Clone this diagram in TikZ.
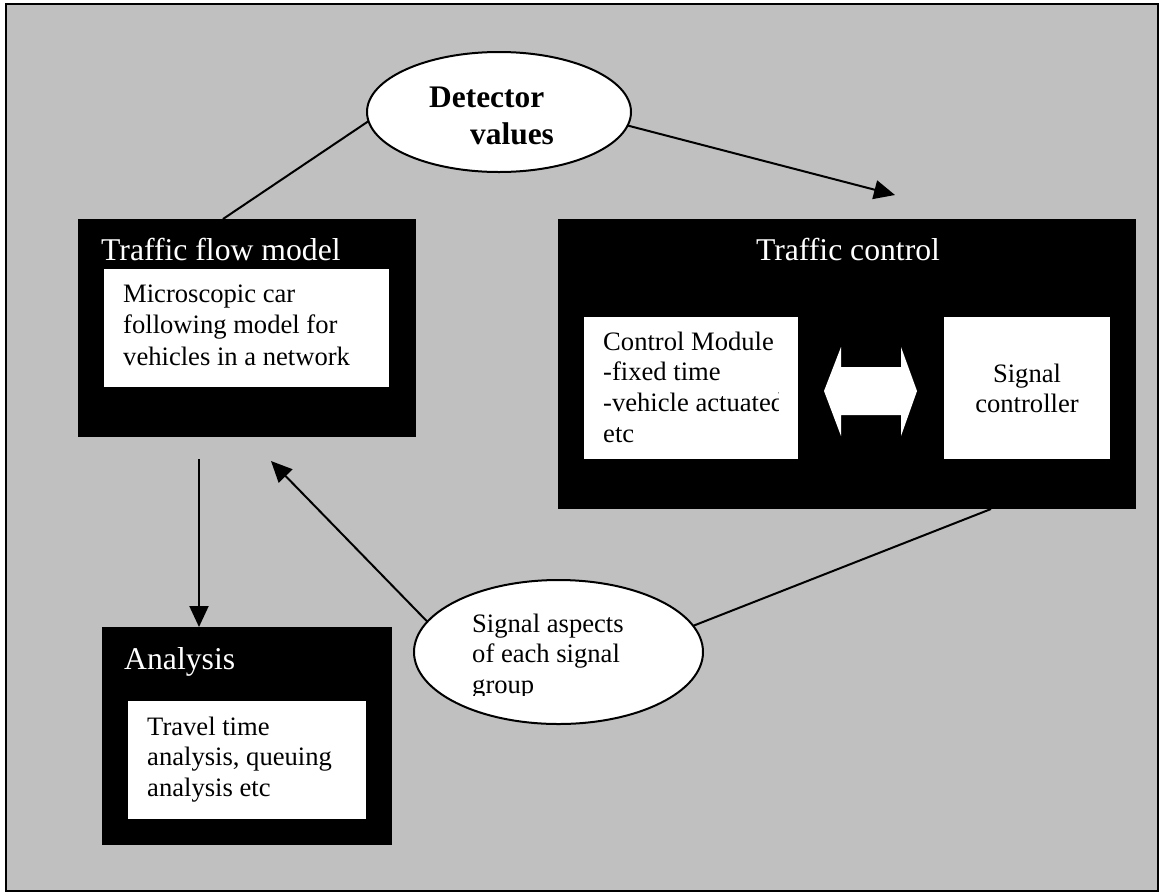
\documentclass[tikz,border=0pt]{standalone}
\usepackage{fontspec}
\setmainfont{Liberation Serif}
\usetikzlibrary{arrows.meta,shapes.geometric,calc}
\definecolor{canvasgray}{HTML}{C0C0C0}

\tikzset{
  panel/.style={rectangle, fill=black, draw=none, inner sep=0pt, outer sep=0pt},
  card/.style={rectangle, fill=white, draw=none, inner sep=0pt, outer sep=0pt},
  bubble/.style={ellipse, draw=black, fill=white, line width=2pt, inner sep=0pt, outer sep=0pt},
  heading/.style={text=white, inner sep=0pt, font=\fontsize{31.7}{37}\selectfont},
  body/.style={inner sep=0pt, font=\fontsize{26.6}{30.7}\selectfont},
  bodywide/.style={inner sep=0pt, font=\fontsize{26.6}{31.5}\selectfont},
  boldlabel/.style={inner sep=0pt, font=\fontsize{31.4}{37}\selectfont\bfseries},
  link/.style={line width=2pt, draw=black},
  flow/.style={link, -{Triangle[length=21pt,width=19pt]}},
}

\begin{document}
\begin{tikzpicture}[x=1pt,y=-1pt]
  % page and frame
  \fill[white] (0,0) rectangle (1161,892);
  \useasboundingbox (0,0) rectangle (1161,892);
  \draw[line width=2pt, fill=canvasgray] (6,4) rectangle (1158,891);

  % traffic flow model
  \node[panel, minimum width=338pt, minimum height=218pt] (tfm) at (247,328) {};
  \node[card, minimum width=285pt, minimum height=118pt] (tfmcard) at (246.5,328) {};
  \node[heading, anchor=base west] (tfmtitle) at (101,260) {Traffic flow model};
  \node[bodywide, anchor=base west] (tfmtext) at (123,302)
    {\begin{tabular}[t]{@{}l@{}}Microscopic car\\following model for\\vehicles in a network\end{tabular}};

  % traffic control
  \node[panel, minimum width=578pt, minimum height=290pt] (tc) at (847,364) {};
  \node[heading, anchor=base] (tctitle) at (848,260) {Traffic control};
  \node[card, minimum width=214pt, minimum height=142pt] (cm) at (691,388) {};
  \node[card, minimum width=166pt, minimum height=142pt] (sc) at (1027,388) {};
  \begin{scope}
    \clip (584,317) rectangle (778,459);
    \node[body, anchor=base west] (cmtext) at (603,350)
      {\begin{tabular}[t]{@{}l@{}}Control Module\\-fixed time\\-vehicle actuated\\etc\end{tabular}};
  \end{scope}
  \node[body, anchor=base] (sctext) at (1027,382)
    {\begin{tabular}[t]{@{}c@{}}Signal\\controller\end{tabular}};
  % two-way exchange between module and controller
  \fill[white] (824,391) -- (841,347) -- (841,367) -- (901,367) -- (901,347)
    -- (917,391) -- (901,436) -- (901,415) -- (841,415) -- (841,436) -- cycle;

  % analysis
  \node[panel, minimum width=290pt, minimum height=218pt] (ana) at (247,736) {};
  \node[card, minimum width=238pt, minimum height=118pt] (anacard) at (247,760) {};
  \node[heading, anchor=base west] (anatitle) at (124,669) {Analysis};
  \node[body, anchor=base west] (anatext) at (147,735)
    {\begin{tabular}[t]{@{}l@{}}Travel time\\analysis, queuing\\analysis etc\end{tabular}};

  % detector values
  \node[bubble, minimum width=264pt, minimum height=120pt] (det) at (499,112) {};
  \node[boldlabel, anchor=base west] (detA) at (429,107) {Detector};
  \node[boldlabel, anchor=base west] (detB) at (470,144) {values};

  % signal aspects
  \node[bubble, minimum width=289pt, minimum height=144pt] (sig) at (558.5,652) {};
  \begin{scope}
    \clip (414,580) rectangle (703,695);
    \node[body, anchor=base west] (sigtext) at (472,632)
      {\begin{tabular}[t]{@{}l@{}}Signal aspects\\of each signal\\group\end{tabular}};
  \end{scope}

  % free ends of the arrows
  \coordinate (tipdet) at (895,195);
  \coordinate (startana) at (199,459);
  \coordinate (tipsig) at (271,461);

  % connectors
  \draw[link] ([xshift=-24pt]tfm.north) -- (det.184.8);
  \draw[flow] (det.354.4) -- (tipdet);
  \draw[flow] (startana) -- (startana |- ana.north);
  \draw[flow] (sig.167) -- (tipsig);
  \draw[link] (sig.11) -- ([xshift=144pt]tc.south);
\end{tikzpicture}
\end{document}
